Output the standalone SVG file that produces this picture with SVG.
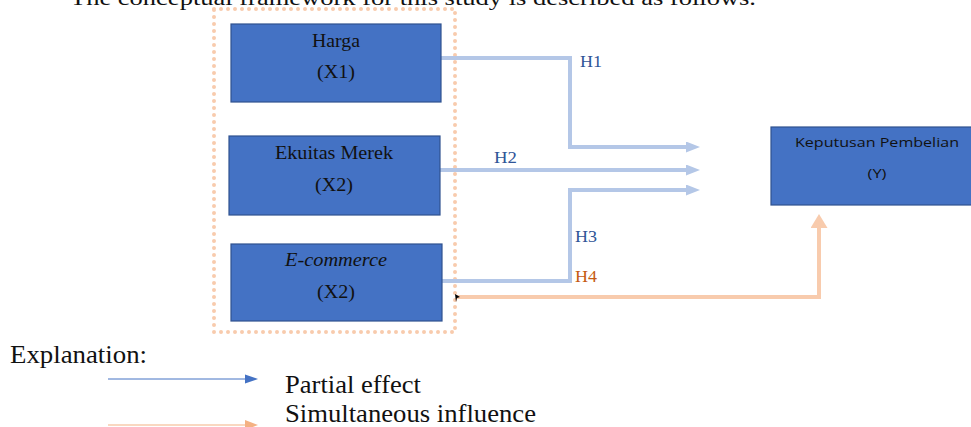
<svg xmlns="http://www.w3.org/2000/svg" width="971" height="427" viewBox="0 0 971 427">
  <defs>
    <style>
      .node { fill: #4472C4; stroke: #2F528F; stroke-width: 1.2; }
      .serif { font-family: "Liberation Serif", "Times New Roman", serif; fill: #111111; }
      .sans { font-family: "Open Sans", "Liberation Sans", sans-serif; fill: #111111; }
      .lbl { font-size: 18px; text-anchor: middle; }
      .partial { fill: none; stroke: #B4C7E7; stroke-width: 4; }
      .simul { fill: none; stroke: #F8CBAD; stroke-width: 4; }
      .hlabel { font-family: "Liberation Serif", "Times New Roman", serif; font-size: 17px; }
      .legend { font-size: 25px; }
    </style>
    <marker id="arrBlue" markerWidth="14" markerHeight="11" refX="0" refY="5.5" orient="auto" markerUnits="userSpaceOnUse">
      <path d="M0,0 L14,5.5 L0,11 Z" fill="#B4C7E7"/>
    </marker>
    <marker id="arrOrange" markerWidth="14" markerHeight="17" refX="0" refY="8.5" orient="auto" markerUnits="userSpaceOnUse">
      <path d="M0,0 L14,8.5 L0,17 Z" fill="#F8CBAD"/>
    </marker>
  </defs>

  <rect width="971" height="427" fill="#ffffff"/>

  <!-- intro sentence, running off the top edge -->
  <text class="serif" x="70" y="5" font-size="22" textLength="686" lengthAdjust="spacingAndGlyphs">The conceptual framework for this study is described as follows.</text>

  <!-- dotted grouping frame around the independent variables -->
  <rect x="214" y="9" width="241" height="323" fill="none" stroke="#F8CBAD" stroke-width="4" stroke-linecap="round" stroke-dasharray="0 7"/>

  <g id="connectors">
    <!-- H1 -->
    <path class="partial" d="M441,58 H570 V147 H686" marker-end="url(#arrBlue)"/>
    <!-- H2 -->
    <path class="partial" d="M440,170 H686" marker-end="url(#arrBlue)"/>
    <!-- H3 -->
    <path class="partial" d="M442,281 H570 V190 H686" marker-end="url(#arrBlue)"/>
    <!-- H4 -->
    <path class="simul" d="M457,297 H819 V228" marker-end="url(#arrOrange)"/>
    <path d="M455,294 L460,297 L457,298 L456,302 Z" fill="#000000"/>
    <text class="hlabel" x="580" y="67" fill="#2F5597" textLength="22" lengthAdjust="spacingAndGlyphs">H1</text>
    <text class="hlabel" x="494" y="163" fill="#2F5597" textLength="23" lengthAdjust="spacingAndGlyphs">H2</text>
    <text class="hlabel" x="575" y="242" fill="#2F5597" textLength="22" lengthAdjust="spacingAndGlyphs">H3</text>
    <text class="hlabel" x="575" y="282" fill="#C55A11" textLength="22" lengthAdjust="spacingAndGlyphs">H4</text>
  </g>

  <g id="node-harga">
    <rect class="node" x="231" y="24" width="210" height="78"/>
    <text class="serif lbl" x="336" y="47" textLength="48" lengthAdjust="spacingAndGlyphs">Harga</text>
    <text class="serif lbl" x="336" y="78" textLength="38" lengthAdjust="spacingAndGlyphs">(X1)</text>
  </g>

  <g id="node-ekuitas">
    <rect class="node" x="229" y="136" width="211" height="79"/>
    <text class="serif lbl" x="334" y="159" textLength="118" lengthAdjust="spacingAndGlyphs">Ekuitas Merek</text>
    <text class="serif lbl" x="334" y="191" textLength="38" lengthAdjust="spacingAndGlyphs">(X2)</text>
  </g>

  <g id="node-ecommerce">
    <rect class="node" x="231" y="244" width="211" height="77"/>
    <text class="serif lbl" x="336" y="266" font-style="italic" textLength="102" lengthAdjust="spacingAndGlyphs">E-commerce</text>
    <text class="serif lbl" x="336" y="298" textLength="38" lengthAdjust="spacingAndGlyphs">(X2)</text>
  </g>

  <g id="node-keputusan">
    <rect class="node" x="771" y="127" width="202" height="78"/>
    <text class="sans" x="877" y="147" font-size="13.5" text-anchor="middle" textLength="164" lengthAdjust="spacingAndGlyphs">Keputusan Pembelian</text>
    <text class="sans" x="877" y="178" font-size="13.5" text-anchor="middle" textLength="19" lengthAdjust="spacingAndGlyphs">(Y)</text>
  </g>

  <!-- legend -->
  <g id="legend">
    <text class="serif legend" x="10" y="363" textLength="137" lengthAdjust="spacingAndGlyphs">Explanation:</text>
    <line x1="108" y1="379" x2="246" y2="379" stroke="#4472C4" stroke-width="1"/>
    <path d="M245,374.5 L258,379 L245,383.5 Z" fill="#4472C4"/>
    <text class="serif legend" x="285" y="393" textLength="136" lengthAdjust="spacingAndGlyphs">Partial effect</text>
    <line x1="108" y1="425" x2="246" y2="425" stroke="#F4B183" stroke-width="1.2"/>
    <path d="M245,420 L258,425 L245,430 Z" fill="#F4B183"/>
    <text class="serif legend" x="285" y="422" textLength="251" lengthAdjust="spacingAndGlyphs">Simultaneous influence</text>
  </g>
</svg>
